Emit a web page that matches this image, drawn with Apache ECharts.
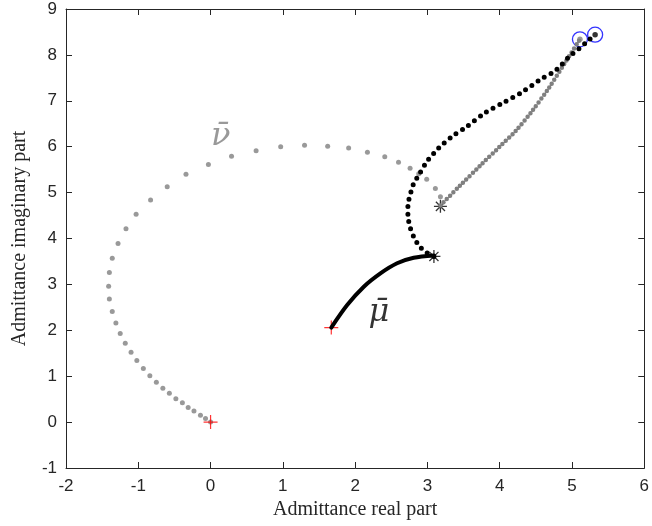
<!DOCTYPE html>
<html>
<head>
<meta charset="utf-8">
<script src="https://cdn.jsdelivr.net/npm/echarts@6/dist/echarts.min.js"></script>
<style>
html,body{margin:0;padding:0;background:#fff;}
#c{width:652px;height:526px;}
</style>
</head>
<body>
<div id="c"></div>
<script>
// Axis ticks
const xTicks = [-2, -1, 0, 1, 2, 3, 4, 5, 6];
const yTicks = [-1, 0, 1, 2, 3, 4, 5, 6, 7, 8, 9];

// nu-bar trajectory: sparse grey dots from origin to the first asterisk
const nuSparse = [
  [0,0],[-0.07,0.08],[-0.14,0.15],[-0.23,0.24],[-0.31,0.32],[-0.39,0.42],[-0.48,0.51],
  [-0.57,0.63],[-0.66,0.74],[-0.75,0.87],[-0.84,1.01],[-0.93,1.17],[-1.02,1.34],
  [-1.10,1.52],[-1.18,1.72],[-1.25,1.93],[-1.31,2.16],[-1.36,2.41],[-1.40,2.68],
  [-1.41,2.96],[-1.40,3.26],[-1.36,3.57],[-1.28,3.89],[-1.17,4.21],[-1.03,4.53],
  [-0.83,4.84],[-0.60,5.13],[-0.34,5.40],[-0.03,5.61],[0.29,5.79],[0.63,5.91],
  [0.97,6.00],[1.30,6.03],[1.62,6.01],[1.91,5.97],[2.17,5.88],[2.41,5.78],
  [2.60,5.66],[2.76,5.53],[2.88,5.41],[2.99,5.29],[3.11,5.09],[3.18,4.91]
];
// nu-bar: dense grey dots from asterisk to end
const nuDense = [
  [3.18,4.72],[3.45,5.15],[3.75,5.62],[4.00,6.00],[4.23,6.36],[4.45,6.78],
  [4.68,7.28],[4.90,7.82],[5.11,8.34]
];
// mu-bar: solid black part from start to asterisk
const muSolid = [
  [1.67,2.06],[1.89,2.55],[2.12,2.95],[2.35,3.24],[2.58,3.46],[2.81,3.58],[3.09,3.63]
];
// mu-bar: dotted black part from asterisk to end
const muDotted = [
  [3.09,3.61],[2.97,3.71],[2.88,3.85],[2.81,4.04],[2.76,4.25],[2.73,4.51],[2.73,4.73],
  [2.76,4.94],[2.81,5.20],[2.88,5.38],[2.99,5.67],[3.15,5.96],[3.34,6.22],[3.54,6.43],
  [3.79,6.73],[4.05,6.96],[4.32,7.20],[4.55,7.45],[4.78,7.67],[4.96,7.96],[5.10,8.14],
  [5.21,8.29],[5.32,8.44]
];
// markers
const startPts = [[0,0],[1.67,2.06]];
const switchPts = [[3.18,4.70],[3.09,3.61]];
const endPts = [[5.11,8.34],[5.32,8.44]];
const nuLabelPos = [[0.14,6.22]];
const muLabelPos = [[2.33,2.39]];

const axisColor = '#262626';
const PLUS = 'path://M0,-1L0,1M-1,0L1,0';
const STAR = 'path://M0,-1L0,1M-1,0L1,0M-0.7,-0.7L0.7,0.7M-0.7,0.7L0.7,-0.7';

const chart = echarts.init(document.getElementById('c'), null, {renderer:'canvas'});

function xAx(pos, show) {
  return {
    type:'value', position:pos, min:-2, max:6, interval:1,
    axisLine:{show:true, onZero:false, lineStyle:{color:axisColor, width:1}},
    axisTick:{show:true, inside:true, length:6, lineStyle:{color:axisColor, width:1}},
    axisLabel:{show:show, color:axisColor, fontSize:17, fontFamily:'Liberation Sans, Arial, sans-serif', margin:10},
    splitLine:{show:false},
    name: show ? 'Admittance real part' : '',
    nameLocation:'middle', nameGap:31,
    nameTextStyle:{color:axisColor, fontSize:20, fontFamily:'Liberation Serif, Times New Roman, serif'}
  };
}
function yAx(pos, show) {
  return {
    type:'value', position:pos, min:-1, max:9, interval:1,
    axisLine:{show:true, onZero:false, lineStyle:{color:axisColor, width:1}},
    axisTick:{show:true, inside:true, length:6, lineStyle:{color:axisColor, width:1}},
    axisLabel:{show:show, color:axisColor, fontSize:17, fontFamily:'Liberation Sans, Arial, sans-serif', margin:9},
    splitLine:{show:false},
    name: show ? 'Admittance imaginary part' : '',
    nameLocation:'middle', nameGap:36,
    nameTextStyle:{color:axisColor, fontSize:20, fontFamily:'Liberation Serif, Times New Roman, serif'}
  };
}

const option = {
  animation:false,
  backgroundColor:'#fff',
  grid:{left:66, right:3, top:9, bottom:58, containLabel:false},
  xAxis:[xAx('bottom', true), xAx('top', false)],
  yAxis:[yAx('left', true), yAx('right', false)],
  series:[
    {type:'line', data:nuDense, smooth:0.3, showSymbol:false, silent:true,
     lineStyle:{color:'#808080', width:4.5, type:[0,4.6], cap:'round'}},
    {type:'scatter', data:nuSparse, symbol:'circle', symbolSize:5, silent:true,
     itemStyle:{color:'#808080'}},
    {type:'line', data:muDotted, smooth:0.3, showSymbol:false, silent:true,
     lineStyle:{color:'#000', width:5, type:[0,7.5], cap:'round'}},
    {type:'line', data:muSolid, smooth:0.3, showSymbol:false, silent:true,
     lineStyle:{color:'#000', width:4, cap:'round'}},
    {type:'scatter', data:[endPts[0]], symbol:'circle', symbolSize:5.5, silent:true,
     itemStyle:{color:'#808080'}},
    {type:'scatter', data:[endPts[1]], symbol:'circle', symbolSize:5.5, silent:true,
     itemStyle:{color:'#000'}},
    {type:'scatter', data:endPts, symbol:'circle', symbolSize:15, silent:true,
     itemStyle:{color:'rgba(0,0,0,0)', borderColor:'#0000ff', borderWidth:1.3}},
    {type:'scatter', data:startPts, symbol:PLUS, symbolSize:14, silent:true,
     itemStyle:{color:'none', borderColor:'#ff0000', borderWidth:1.2}},
    {type:'scatter', data:switchPts, symbol:STAR, symbolSize:13, silent:true,
     itemStyle:{color:'none', borderColor:'#000', borderWidth:1.3}},
    {type:'scatter', data:nuLabelPos, symbolSize:0, silent:true,
     label:{show:true, position:'inside', formatter:'\u03bd\u0304', color:'#808080',
            fontSize:32, fontStyle:'italic', fontFamily:'DejaVu Serif, serif'}},
    {type:'scatter', data:muLabelPos, symbolSize:0, silent:true,
     label:{show:true, position:'inside', formatter:'\u03bc\u0304', color:'#000',
            fontSize:32, fontStyle:'italic', fontFamily:'DejaVu Serif, serif'}}
  ]
};
chart.setOption(option);
</script>
</body>
</html>
